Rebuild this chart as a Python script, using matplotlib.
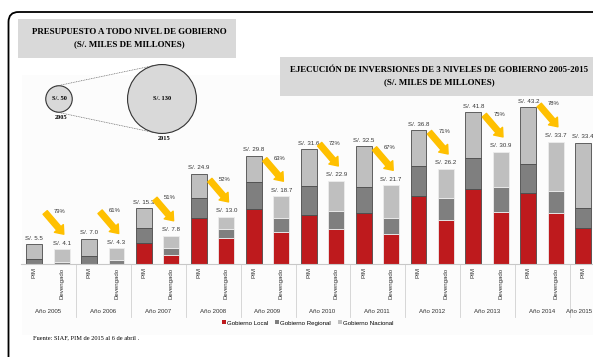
import numpy as np
import matplotlib
matplotlib.use('Agg')
import matplotlib.pyplot as plt
from matplotlib.patches import Circle, FancyBboxPatch, Rectangle, Patch

# Budget bubbles (S/. miles de millones)
bubble_years = ['2005', '2015']
bubble_values = [50, 130]

# Investment execution by government level, 2005-2015
years = [2005, 2006, 2007, 2008, 2009, 2010, 2011, 2012, 2013, 2014, 2015]
pim_total = [5.5, 7.0, 15.3, 24.9, 29.8, 31.6, 32.5, 36.8, 41.8, 43.2, 33.4]
pim_local = [0.0, 0.0, 5.9, 12.6, 15.2, 13.4, 14.0, 18.7, 20.6, 19.5, 9.8]
pim_regional = [1.3, 2.3, 4.1, 5.7, 7.3, 8.1, 7.2, 8.4, 8.5, 8.1, 5.5]
pim_nacional = [4.2, 4.7, 5.3, 6.6, 7.3, 10.1, 11.3, 9.7, 12.7, 15.6, 18.1]

dev_total = [4.1, 4.3, 7.8, 13.0, 18.7, 22.9, 21.7, 26.2, 30.9, 33.7]
dev_local = [0.0, 0.0, 2.4, 7.1, 8.9, 9.7, 8.3, 12.0, 14.4, 14.0]
dev_regional = [0.6, 1.1, 2.1, 2.5, 3.9, 4.9, 4.5, 6.1, 6.9, 6.2]
dev_nacional = [3.5, 3.2, 3.3, 3.4, 5.9, 8.3, 8.9, 8.1, 9.6, 13.5]

exec_pct = ['79%', '61%', '51%', '52%', '63%', '72%', '67%', '71%', '75%', '78%']

levels = ['Gobierno Local', 'Gobierno Regional', 'Gobierno Nacional']
level_colors = ['#BE1A1D', '#7F7F7F', '#BFBFBF']
BOX_GRAY = '#D9D9D9'
ARROW = '#FFC000'
SANS = 'Liberation Sans'
SERIF = 'Liberation Serif'

W, H = 593, 357
fig = plt.figure(figsize=(W / 100, H / 100), dpi=100)

# ---- background layer, pixel coordinates ----
deco = fig.add_axes([0, 0, 1, 1])
deco.set_xlim(0, W)
deco.set_ylim(H, 0)
deco.axis('off')

deco.add_patch(Rectangle((22, 75), 700, 260, facecolor='#fcfcfc', edgecolor='none'))
deco.add_patch(FancyBboxPatch((8.5, 12), 800, 500,
                              boxstyle='round,pad=0,rounding_size=10',
                              facecolor='none', edgecolor='black', lw=1.3))

deco.add_patch(Rectangle((18, 19), 218, 39, facecolor=BOX_GRAY, edgecolor='none'))
deco.text(129.5, 32.5, 'PRESUPUESTO A TODO NIVEL DE GOBIERNO', ha='center', va='center',
          family=SERIF, weight='bold', fontsize=6.4)
deco.text(129.5, 44.5, '(S/. MILES DE MILLONES)', ha='center', va='center',
          family=SERIF, weight='bold', fontsize=6.4)

deco.add_patch(Rectangle((280, 57), 400, 39, facecolor=BOX_GRAY, edgecolor='none'))
deco.text(439, 70, 'EJECUCIÓN DE INVERSIONES DE 3 NIVELES DE GOBIERNO 2005-2015',
          ha='center', va='center', family=SERIF, weight='bold', fontsize=6.4)
deco.text(439, 82.5, '(S/. MILES DE MILLONES)', ha='center', va='center',
          family=SERIF, weight='bold', fontsize=6.4)

# bubbles with dashed outer tangents
centers = [(59, 99), (162, 99)]
radii = [v * 0.265 for v in bubble_values]
(cx1, cy1), (cx2, cy2) = centers
a = np.arcsin((radii[1] - radii[0]) / (cx2 - cx1))
for sgn in (-1, 1):
    p1 = (cx1 - radii[0] * np.sin(a), cy1 + sgn * radii[0] * np.cos(a))
    p2 = (cx2 - radii[1] * np.sin(a), cy2 + sgn * radii[1] * np.cos(a))
    deco.plot([p1[0], p2[0]], [p1[1], p2[1]], ls=(0, (1.5, 1.2)), lw=0.45, color='#555555')
for (cx, cy), r, v, yr in zip(centers, radii, bubble_values, bubble_years):
    deco.add_patch(Circle((cx, cy), r, facecolor=BOX_GRAY, edgecolor='#333333', lw=0.8))
    deco.text(cx, cy, f'S/. {v}', ha='center', va='center', family=SERIF,
              weight='bold', fontsize=4.6)
    deco.text(cx + 2, cy + r + 5, yr, ha='center', va='center', family=SERIF,
              weight='bold', fontsize=4.6)

deco.text(33, 338, 'Fuente: SIAF, PIM de 2015 al 6 de abril .', ha='left', va='center',
          family=SERIF, fontsize=4.6)

# ---- bar chart ----
GW = 54.9          # px per year group
X0, BASE, TOP = 21, 264, 75
PPU = 3.63         # px per S/. mil millones
ax = fig.add_axes([X0 / W, (H - BASE) / H, (W - X0) / W, (BASE - TOP) / H])
ax.set_xlim(0, (W - X0) / GW)
ax.set_ylim(0, (BASE - TOP) / PPU)
ax.patch.set_alpha(0)

n = len(years)
idx = np.arange(n)
pim_x = idx + 0.24
dev_x = idx[:len(dev_total)] + 0.74
bw = 0.29


def stack(x, segments, edge):
    bottom = np.zeros(len(x))
    for vals, col in zip(segments, level_colors):
        vals = np.asarray(vals)
        ax.bar(x, vals, bw, bottom=bottom, color=col, edgecolor=edge, linewidth=0.6,
               zorder=2)
        bottom += vals


stack(pim_x, [pim_local, pim_regional, pim_nacional], '#4a4a4a')
stack(dev_x, [dev_local, dev_regional, dev_nacional], '#ececec')

for x, t in zip(pim_x, pim_total):
    ax.annotate(f'S/. {t:.1f}', (x, t), xytext=(0, 2.5), textcoords='offset points',
                ha='center', va='bottom', family=SANS, fontsize=4.4, color='#333333')
for x, t in zip(dev_x, dev_total):
    ax.annotate(f'S/. {t:.1f}', (x, t), xytext=(0, 2.5), textcoords='offset points',
                ha='center', va='bottom', family=SANS, fontsize=4.4, color='#333333')

# PIM -> Devengado arrows with execution rate
for i, (d, pct) in enumerate(zip(dev_total, exec_pct)):
    y_end = d + 4.1
    y_start = y_end + 6.0
    ax.annotate('', xy=(i + 0.78, y_end), xytext=(i + 0.44, y_start),
                arrowprops=dict(arrowstyle='simple,head_length=0.55,head_width=0.85,tail_width=0.4',
                                color=ARROW, mutation_scale=10, shrinkA=0, shrinkB=0),
                zorder=3)
    ax.text(i + 0.71, y_start + 0.3, pct, ha='center', va='center', family=SANS,
            fontsize=4.2, color='#333333')

ax.set_xticks(np.concatenate([pim_x, dev_x]))
ax.set_xticklabels(['PIM'] * n + ['Devengado'] * len(dev_x), rotation=90,
                   family=SANS, fontsize=4.4, color='#333333')
ax.tick_params(axis='x', length=0, pad=2.5)
ax.set_yticks([])
for s in ['top', 'right', 'left']:
    ax.spines[s].set_visible(False)
ax.spines['bottom'].set_color('#c8c8c8')
ax.spines['bottom'].set_linewidth(0.8)

# group separators and year labels under the axis
xt = ax.get_xaxis_transform()
for b in range(1, n):
    ax.plot([b, b], [0, -0.28], transform=xt, clip_on=False, color='#d0d0d0', lw=0.6)
for i, yr in enumerate(years):
    if i < len(dev_x):
        ax.text((pim_x[i] + dev_x[i]) / 2, -0.249, f'Año {yr}', transform=xt,
                ha='center', va='center', family=SANS, fontsize=4.4, color='#333333')
    else:
        # last group only has its PIM bar inside the frame
        ax.text(0.998, -0.249, f'Año {yr}', transform=ax.transAxes,
                ha='right', va='center', family=SANS, fontsize=4.4, color='#333333')

handles = [Patch(facecolor=c, edgecolor='none', label=l) for c, l in zip(level_colors, levels)]
fig.legend(handles=handles, loc='center', bbox_to_anchor=(0.519, 1 - 323 / H), ncol=3,
           frameon=False, prop={'family': SANS, 'size': 4.4}, handlelength=0.6,
           handleheight=0.6, handletextpad=0.2, columnspacing=1.2)

fig.savefig('out.png', dpi=100)
